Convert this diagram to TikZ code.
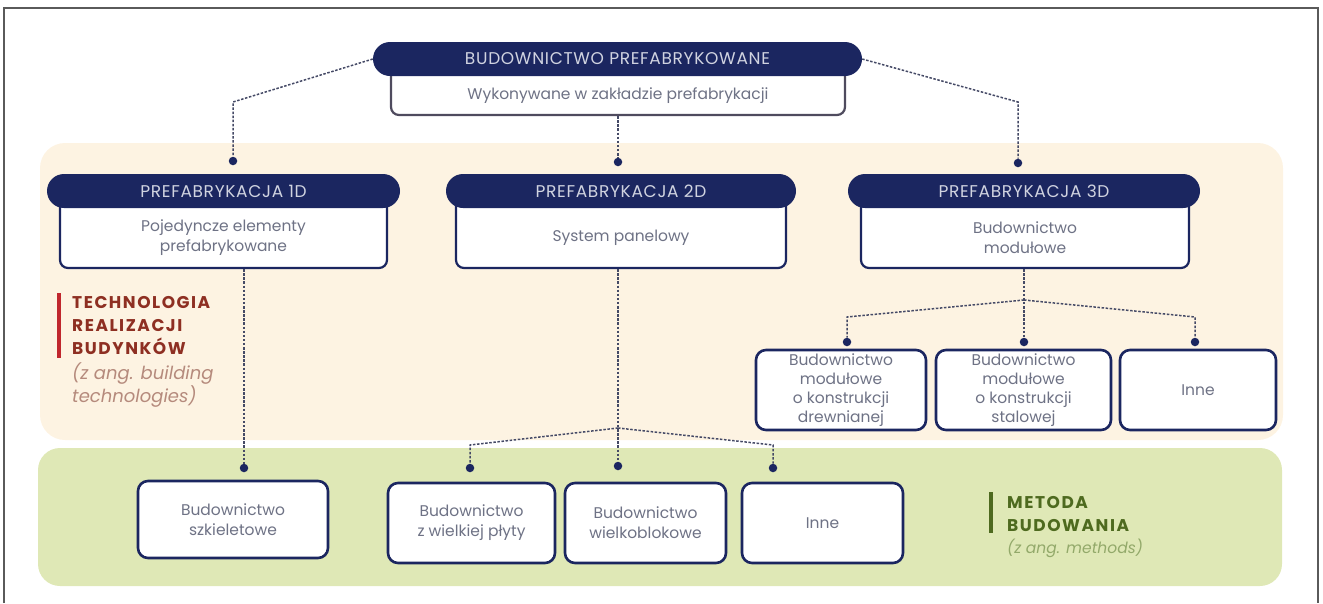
\documentclass[tikz,border=0pt]{standalone}
\usepackage{fontspec}
\setmainfont{Poppins}
\usetikzlibrary{calc}

\definecolor{navy}{HTML}{1B2660}
\definecolor{hdrtext}{HTML}{D0D3E0}
\definecolor{boxtext}{HTML}{6E7285}
\definecolor{topedge}{HTML}{4F4B5E}
\definecolor{connc}{HTML}{454A66}
\definecolor{beige}{HTML}{FDF3E2}
\definecolor{greenband}{HTML}{DFE8B6}
\definecolor{redbar}{HTML}{C0262D}
\definecolor{redtext}{HTML}{8E2F22}
\definecolor{redital}{HTML}{B58A7C}
\definecolor{olive}{HTML}{4E6A1F}
\definecolor{oliveital}{HTML}{93A96A}
\definecolor{framec}{HTML}{5A5A5A}

\tikzset{
  hdr/.style={fill=navy, draw=none, rounded corners=17pt, minimum height=34pt,
    text=hdrtext, font=\fontsize{17}{20}\selectfont\addfontfeatures{LetterSpace=4}, inner sep=0pt},
  bodybox/.style={draw=navy, line width=2.2pt, fill=white, rounded corners=8pt, inner sep=0pt},
  txt/.style={text=boxtext, align=center, font=\fontsize{15.5}{20}\selectfont, inner sep=0pt},
  leaf/.style={draw=navy, line width=2.6pt, fill=white, rounded corners=10pt,
    text=boxtext, align=center, font=\fontsize{15.5}{20}\selectfont, inner sep=0pt},
  smallleaf/.style={leaf, font=\fontsize{15.5}{19}\selectfont},
  conn/.style={draw=connc, line width=1.5pt, dash pattern=on 2.5pt off 1.6pt},
  dotn/.style={circle, fill=navy, minimum size=8.5pt, inner sep=0pt},
  bandlabel/.style={align=left, inner sep=0pt,
    font=\bfseries\fontsize{17}{23}\selectfont\addfontfeatures{LetterSpace=9}},
  bandnote/.style={align=left, inner sep=0pt, font=\itshape\fontsize{18}{23}\selectfont},
}

\begin{document}
\begin{tikzpicture}[x=1pt,y=-1pt]
\useasboundingbox (0,0) rectangle (1323,603);

% outer frame
\draw[framec, line width=1.5pt] (4,603) -- (4,8) -- (1318,8) -- (1318,603);

% background bands
\fill[beige, rounded corners=25pt] (40,143) rectangle (1283,440);
\fill[greenband, rounded corners=22pt] (38,448) rectangle (1282,586);

% root
\node[bodybox, draw=topedge, minimum width=454pt, minimum height=49pt] (topB) at (618,90.5) {};
\node[hdr, minimum width=489pt] (topH) at (617.5,59) {BUDOWNICTWO PREFABRYKOWANE};
\node[txt] (topT) at (618,96) {Wykonywane w zakładzie prefabrykacji};

% second level
\node[bodybox, minimum width=327pt, minimum height=77pt] (b1) at (223.5,229.5) {};
\node[hdr, minimum width=353pt] (h1) at (223.5,191) {PREFABRYKACJA 1D};
\node[txt] (t1) at (223.5,238) {Pojedyncze elementy\\prefabrykowane};

\node[bodybox, minimum width=330pt, minimum height=77pt] (b2) at (621,229.5) {};
\node[hdr, minimum width=350pt] (h2) at (621,191) {PREFABRYKACJA 2D};
\node[txt] (t2) at (621,238) {System panelowy};

\node[bodybox, minimum width=328pt, minimum height=77pt] (b3) at (1025,229.5) {};
\node[hdr, minimum width=352pt] (h3) at (1024,191) {PREFABRYKACJA 3D};
\node[txt] (t3) at (1025,238) {Budownictwo\\modułowe};

% connectors from the root
\coordinate (k1) at (233,102);
\coordinate (k3) at (1018,102);
\node[dotn] (d1) at (233,161) {};
\node[dotn] (d2) at (618,162) {};
\node[dotn] (d3) at (1018,163) {};
\draw[conn] (topH.west) -- (k1) -- (d1);
\draw[conn] (topB.south) -- (d2);
\draw[conn] (topH.east) -- (k3) -- (d3);

% 1D branch
\node[dotn] (d4) at (244,468) {};
\draw[conn] (b1.south -| d4) -- (d4);
\node[leaf, minimum width=190pt, minimum height=77pt] (l1) at (233,519.5) {Budownictwo\\szkieletowe};

% 2D branch
\coordinate (j2) at (618,428);
\coordinate (k5) at (470,445);
\coordinate (k7) at (773,445);
\node[dotn] (d5) at (470,468) {};
\node[dotn] (d6) at (618,466) {};
\node[dotn] (d7) at (773,468) {};
\draw[conn] (b2.south -| j2) -- (j2) -- (d6);
\draw[conn] (j2) -- (k5) -- (d5);
\draw[conn] (j2) -- (k7) -- (d7);
\node[leaf, minimum width=167pt, minimum height=80pt] (l2) at (471.5,523) {Budownictwo\\z wielkiej płyty};
\node[leaf, minimum width=161pt, minimum height=80pt] (l3) at (645.5,523) {Budownictwo\\wielkoblokowe};
\node[leaf, minimum width=161pt, minimum height=80pt] (l4) at (822.5,523) {Inne};

% 3D branch
\coordinate (j3) at (1024,300);
\coordinate (k8) at (847,317);
\coordinate (k10) at (1195,317);
\node[dotn] (d8) at (847,342) {};
\node[dotn] (d9) at (1024,342) {};
\node[dotn] (d10) at (1195,342) {};
\draw[conn] (b3.south -| j3) -- (j3) -- (d9);
\draw[conn] (j3) -- (k8) -- (d8);
\draw[conn] (j3) -- (k10) -- (d10);
\node[smallleaf, minimum width=170pt, minimum height=80pt] (m1) at (841,390) {Budownictwo\\modułowe\\o konstrukcji\\drewnianej};
\node[smallleaf, minimum width=175pt, minimum height=80pt] (m2) at (1023.5,390) {Budownictwo\\modułowe\\o konstrukcji\\stalowej};
\node[leaf, minimum width=156pt, minimum height=80pt] (m3) at (1198,390) {Inne};

% band labels
\fill[redbar] (57,293) rectangle (61,358);
\node[bandlabel, text=redtext, anchor=north west] (lab1) at (72,296) {TECHNOLOGIA\\REALIZACJI\\BUDYNKÓW};
\node[bandnote, text=redital, anchor=north west] (lab1n) at (72,362) {(z ang. building\\technologies)};

\fill[olive] (989,492) rectangle (993,533);
\node[bandlabel, text=olive, anchor=north west] (lab2) at (1007,496) {METODA\\BUDOWANIA};
\node[bandnote, text=oliveital, font=\itshape\fontsize{15.5}{20}\selectfont, anchor=north west] (lab2n) at (1007,539) {(z ang. methods)};
\end{tikzpicture}
\end{document}
